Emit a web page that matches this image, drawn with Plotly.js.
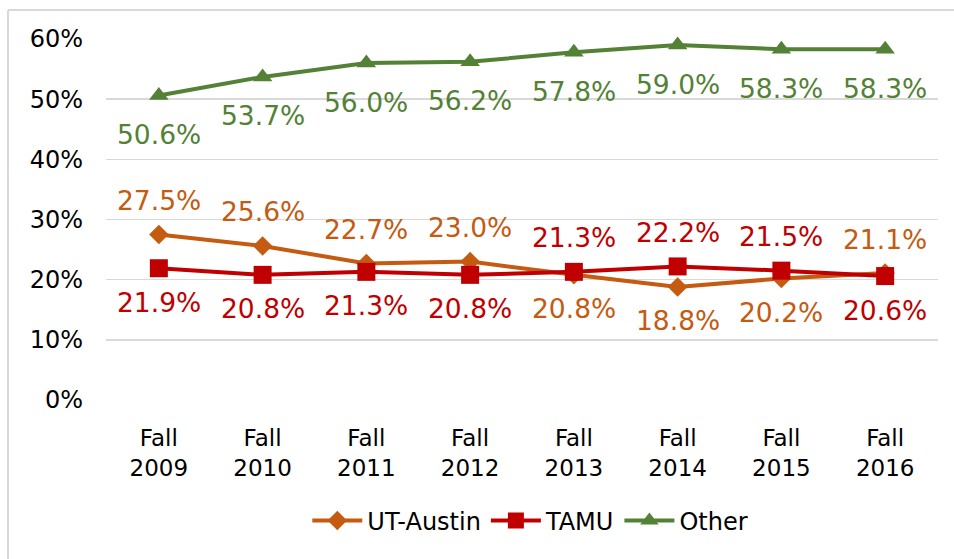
<!DOCTYPE html>
<html>
<head>
<meta charset="utf-8">
<script src="https://cdn.plot.ly/plotly-3.0.1.min.js"></script>
<style>
  html, body { margin: 0; padding: 0; background: white; }
  #chart { width: 954px; height: 559px; }
</style>
</head>
<body>
<div id="chart"></div>
<script>
// Data for the chart
var categories = ['Fall<br>2009', 'Fall<br>2010', 'Fall<br>2011', 'Fall<br>2012',
                  'Fall<br>2013', 'Fall<br>2014', 'Fall<br>2015', 'Fall<br>2016'];
var utAustin = [27.5, 25.6, 22.7, 23.0, 20.8, 18.8, 20.2, 21.1];
var tamu = [21.9, 20.8, 21.3, 20.8, 21.3, 22.2, 21.5, 20.6];
var other = [50.6, 53.7, 56.0, 56.2, 57.8, 59.0, 58.3, 58.3];

// where each data label sits: 1 above, -1 below
var utSide = [1, 1, 1, 1, -1, -1, -1, 1];
var tamuSide = [-1, -1, -1, -1, 1, 1, 1, -1];
var otherSide = [-1, -1, -1, -1, -1, -1, -1, -1];

var font = 'Tahoma, "DejaVu Sans", sans-serif';

function series(name, y, color, symbol, size) {
  return {
    x: categories,
    y: y,
    name: name,
    type: 'scatter',
    mode: 'lines+markers',
    line: { color: color, width: 4 },
    marker: { color: color, symbol: symbol, size: size },
    cliponaxis: false,
    hoverinfo: 'skip'
  };
}

var data = [
  series('UT-Austin', utAustin, '#C55A11', 'diamond', 15),
  series('TAMU', tamu, '#C00000', 'square', 18),
  series('Other', other, '#538135', 'triangle-up', 17)
];

// data labels
var annotations = [];
function addLabels(y, side, color, shift) {
  for (var i = 0; i < y.length; i++) {
    annotations.push({
      x: categories[i],
      y: y[i],
      text: y[i].toFixed(1) + '%',
      showarrow: false,
      yshift: side[i] * shift,
      font: { family: font, size: 26.5, color: color }
    });
  }
}
addLabels(utAustin, utSide, '#C55A11', 34);
addLabels(tamu, tamuSide, '#C00000', 34);
addLabels(other, otherSide, '#538135', 39);

var layout = {
  width: 954,
  height: 559,
  margin: { l: 106, r: 16, t: 39, b: 159 },
  paper_bgcolor: 'white',
  plot_bgcolor: 'white',
  font: { family: font, size: 23, color: '#000000' },
  showlegend: true,
  legend: {
    orientation: 'h',
    x: 0.51,
    xanchor: 'center',
    y: -0.335,
    yanchor: 'middle',
    itemwidth: 50,
    font: { family: font, size: 24, color: '#000000' }
  },
  xaxis: {
    type: 'category',
    showline: false,
    showgrid: false,
    ticks: '',
    ticklabelstandoff: 22,
    tickfont: { family: font, size: 23, color: '#000000' }
  },
  yaxis: {
    range: [0, 60],
    dtick: 10,
    ticksuffix: '%',
    showgrid: true,
    gridcolor: '#D9D9D9',
    gridwidth: 1.5,
    zeroline: false,
    showline: false,
    ticks: '',
    ticklabelstandoff: 22,
    tickfont: { family: font, size: 24, color: '#000000' }
  },
  annotations: annotations,
  shapes: [
    { type: 'line', xref: 'paper', yref: 'paper', x0: -0.1178, x1: -0.1178, y0: 1.0803, y1: -0.45,
      line: { color: '#D9D9D9', width: 2 } },
    { type: 'line', xref: 'paper', yref: 'paper', x0: -0.1178, x1: 1.03, y0: 1.0803, y1: 1.0803,
      line: { color: '#D9D9D9', width: 2 } }
  ]
};

Plotly.newPlot('chart', data, layout, { displayModeBar: false, staticPlot: true });
</script>
</body>
</html>
